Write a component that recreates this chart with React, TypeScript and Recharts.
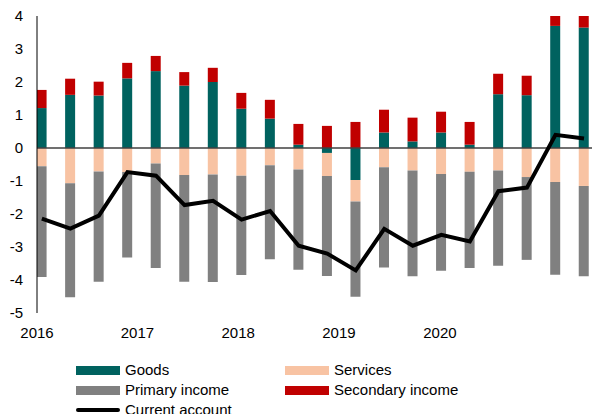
import React from "react";
import {
  ComposedChart,
  Bar,
  Line,
  XAxis,
  YAxis,
  ReferenceLine,
} from "recharts";

const quarters = [
  "2016Q1", "2016Q2", "2016Q3", "2016Q4",
  "2017Q1", "2017Q2", "2017Q3", "2017Q4",
  "2018Q1", "2018Q2", "2018Q3", "2018Q4",
  "2019Q1", "2019Q2", "2019Q3", "2019Q4",
  "2020Q1", "2020Q2", "2020Q3", "2020Q4",
];
const goods = [1.21, 1.61, 1.59, 2.11, 2.33, 1.89, 2.0, 1.19, 0.89, 0.1, -0.15, -0.97, 0.47, 0.2, 0.47, 0.1, 1.63, 1.6, 3.7, 3.65];
const services = [-0.55, -1.07, -0.71, -0.73, -0.47, -0.82, -0.8, -0.84, -0.52, -0.65, -0.7, -0.65, -0.58, -0.68, -0.79, -0.72, -0.68, -0.88, -1.03, -1.15];
const primaryIncome = [-3.36, -3.45, -3.34, -2.59, -3.17, -3.23, -3.26, -3.01, -2.85, -3.04, -3.03, -2.89, -3.04, -3.21, -2.93, -2.92, -2.89, -2.51, -2.81, -2.74];
const secondaryIncome = [0.55, 0.49, 0.42, 0.47, 0.46, 0.41, 0.43, 0.48, 0.57, 0.63, 0.67, 0.79, 0.69, 0.72, 0.63, 0.69, 0.62, 0.59, 0.54, 0.53];
const currentAccount = [-2.14, -2.44, -2.05, -0.73, -0.84, -1.73, -1.6, -2.17, -1.91, -2.96, -3.2, -3.71, -2.45, -2.96, -2.63, -2.83, -1.31, -1.2, 0.4, 0.29];
const yearLabels = ["2016", "2017", "2018", "2019", "2020"];
// label positions on the quarter-index axis
const yearTickPos = [-0.17, 3.35, 6.88, 10.41, 13.95];
const yTicks = [-5, -4, -3, -2, -1, 0, 1, 2, 3, 4];

const COLORS = {
  goods: "#00625F",
  services: "#F8C3A3",
  primary: "#808080",
  secondary: "#C00000",
  current: "#000000",
};

const data = quarters.map((q, i) => ({
  q,
  idx: i,
  goods: goods[i],
  services: services[i],
  primary: primaryIncome[i],
  secondary: secondaryIncome[i],
  current: currentAccount[i],
}));

const FONT = "'Liberation Sans', Arial, sans-serif";

const legendItems = [
  { name: "Goods", color: COLORS.goods, type: "bar", left: 76, top: 361 },
  { name: "Services", color: COLORS.services, type: "bar", left: 285, top: 361 },
  { name: "Primary income", color: COLORS.primary, type: "bar", left: 76, top: 381 },
  { name: "Secondary income", color: COLORS.secondary, type: "bar", left: 285, top: 381 },
  { name: "Current account", color: COLORS.current, type: "line", left: 76, top: 401 },
];

const yearFormatter = (v: number) => {
  const k = yearTickPos.indexOf(v);
  return k >= 0 ? yearLabels[k] : "";
};

export default function App() {
  return (
    <div
      style={{
        position: "absolute",
        left: 0,
        top: 0,
        width: 592,
        height: 414,
        overflow: "hidden",
        background: "#ffffff",
        fontFamily: FONT,
      }}
    >
      <ComposedChart
        width={592}
        height={414}
        data={data}
        stackOffset="sign"
        margin={{ top: 16, right: 0, bottom: 71, left: 0 }}
        barSize={10}
      >
        <XAxis
          dataKey="idx"
          type="number"
          domain={[-0.17, 19.28]}
          allowDataOverflow
          ticks={yearTickPos}
          interval={0}
          tickFormatter={yearFormatter}
          axisLine={false}
          tickLine={false}
          tickSize={0}
          tickMargin={14}
          height={30}
          tick={{ fill: "#000000", fontSize: 15, fontFamily: FONT }}
        />
        <YAxis
          type="number"
          domain={[-5, 4]}
          allowDataOverflow
          ticks={yTicks}
          interval={0}
          width={37}
          axisLine={{ stroke: "#000000", strokeWidth: 1 }}
          tickLine={false}
          tickSize={0}
          tickMargin={14}
          tick={{ fill: "#000000", fontSize: 15, fontFamily: FONT }}
        />
        <Bar dataKey="goods" stackId="a" fill={COLORS.goods} isAnimationActive={false} />
        <Bar dataKey="services" stackId="a" fill={COLORS.services} isAnimationActive={false} />
        <Bar dataKey="primary" stackId="a" fill={COLORS.primary} isAnimationActive={false} />
        <Bar dataKey="secondary" stackId="a" fill={COLORS.secondary} isAnimationActive={false} />
        <ReferenceLine y={0} stroke="#404040" strokeWidth={1.5} />
        <Line
          dataKey="current"
          type="linear"
          stroke={COLORS.current}
          strokeWidth={4}
          dot={false}
          activeDot={false}
          isAnimationActive={false}
        />
      </ComposedChart>
      {legendItems.map((it) => (
        <div
          key={it.name}
          style={{
            position: "absolute",
            left: it.left,
            top: it.top,
            height: 18,
            display: "flex",
            alignItems: "center",
            fontSize: 15,
            color: "#000000",
            whiteSpace: "nowrap",
            lineHeight: "18px",
          }}
        >
          <div
            style={{
              width: 44,
              height: it.type === "line" ? 4 : 9,
              background: it.color,
              borderRadius: it.type === "line" ? 2 : 0,
              marginRight: 5,
            }}
          />
          <span>{it.name}</span>
        </div>
      ))}
    </div>
  );
}
